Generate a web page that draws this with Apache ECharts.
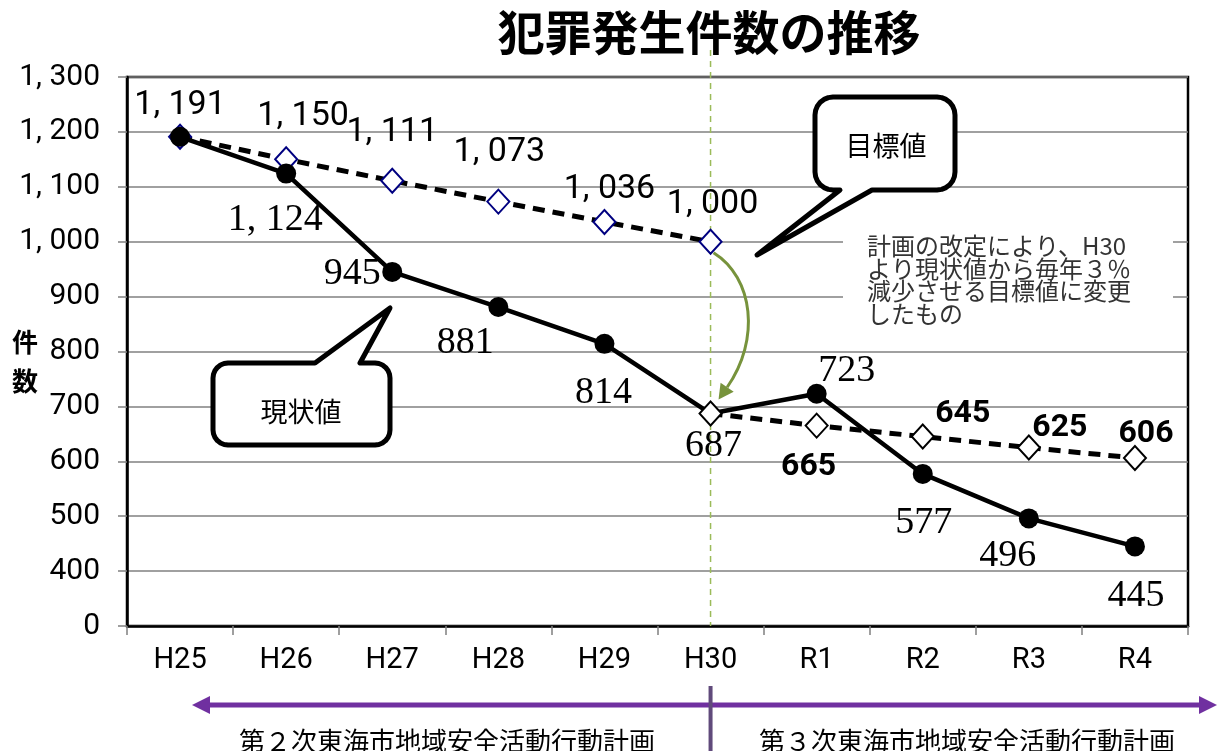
<!DOCTYPE html>
<html>
<head>
<meta charset="utf-8">
<script src="https://cdn.jsdelivr.net/npm/echarts@6/dist/echarts.min.js"></script>
<style>
html, body { margin: 0; padding: 0; background: #fff; }
#main { width: 1217px; height: 751px; }
</style>
</head>
<body>
<div id="main"></div>
<script>
// data
var years = ['H25', 'H26', 'H27', 'H28', 'H29', 'H30', 'R1', 'R2', 'R3', 'R4'];
var actual = [1191, 1124, 945, 881, 814, 687, 723, 577, 496, 445];     // 現状値
var targetOld = [1191, 1150, 1111, 1073, 1036, 1000, null, null, null, null]; // 目標値 (第2次)
var targetNew = [null, null, null, null, null, 687, 665, 645, 625, 606];     // 目標値 (改定後)
// y axis is broken: the bottom tick (300) is shown as 0
var yTickValues = [300, 400, 500, 600, 700, 800, 900, 1000, 1100, 1200, 1300];
var yTickLabels = ['0', '400', '500', '600', '700', '800', '900', '1, 000', '1, 100', '1, 200', '1, 300'];

var NARROW = "Roboto, 'Liberation Sans', sans-serif";
var SERIF = "'Liberation Serif', 'DejaVu Serif', serif";
var JP = "'Noto Sans CJK JP', 'Noto Sans', sans-serif";

// label offsets (px from the point), null = no label
var actualLabelPos = [null, [-11, 46], [-40, 2], [-33, 36], [-1, 49], [3, 32], [30, -23], [1, 49], [-21, 38], [1, 50]];
var oldLabelPos = [[0, -31], [17, -43], [0, -48], [1, -49], [5, -32], [2, -37], null, null, null, null];
var newLabelPos = [null, null, null, null, null, null, [-8, 41], [40, -23], [31, -20], [11, -24]];

function fmt(v) {
    return v >= 1000 ? Math.floor(v / 1000) + ', ' + String(v % 1000).padStart(3, '0') : String(v);
}

function buildData(values, pos, hideIdx) {
    return values.map(function (v, i) {
        if (v === null) return '-';
        var item = { value: v, label: pos[i] ? { show: true, offset: pos[i] } : { show: false } };
        if (hideIdx === i) item.symbolSize = 0;
        return item;
    });
}

var chart = echarts.init(document.getElementById('main'));

var option = {
    animation: false,
    backgroundColor: '#fff',
    grid: {
        left: 127, right: 29, top: 77, bottom: 125,
        show: true, borderColor: '#000', borderWidth: 2.5
    },
    xAxis: {
        type: 'category',
        data: years,
        boundaryGap: true,
        axisLine: { show: true, lineStyle: { color: '#000', width: 2.5 } },
        axisTick: { show: true, length: 9, interval: 0, lineStyle: { color: '#808080', width: 1.5 } },
        axisLabel: { color: '#000', fontFamily: NARROW, fontSize: 29, margin: 20, interval: 0 },
        splitLine: { show: false }
    },
    yAxis: {
        type: 'value',
        min: 300, max: 1300, interval: 100,
        axisLine: { show: true, lineStyle: { color: '#000', width: 2.5 } },
        axisTick: { show: true, length: 9, lineStyle: { color: '#808080', width: 1.5 } },
        axisLabel: {
            color: '#000', fontFamily: NARROW, fontSize: 30, margin: 27,
            formatter: function (v) {
                var k = yTickValues.indexOf(v);
                return k >= 0 ? yTickLabels[k] : '';
            }
        },
        splitLine: { show: true, lineStyle: { color: '#808080', width: 1.5 } }
    },
    series: [
        {
            name: '目標値',
            type: 'line',
            z: 2,
            data: buildData(targetOld, oldLabelPos),
            symbol: 'diamond',
            symbolSize: [22, 24],
            lineStyle: { color: '#000', width: 5, type: [12, 8] },
            itemStyle: { color: '#fff', borderColor: '#000080', borderWidth: 2 },
            label: {
                position: 'inside', align: 'center', verticalAlign: 'middle',
                color: '#000', fontFamily: NARROW, fontSize: 34,
                formatter: function (p) { return fmt(p.value); }
            }
        },
        {
            name: '現状値',
            type: 'line',
            z: 3,
            data: buildData(actual, actualLabelPos, 5),
            symbol: 'circle',
            symbolSize: 20,
            lineStyle: { color: '#000', width: 4.5 },
            itemStyle: { color: '#000' },
            label: {
                position: 'inside', align: 'center', verticalAlign: 'middle',
                color: '#000', fontFamily: SERIF, fontSize: 38,
                formatter: function (p) { return fmt(p.value); }
            }
        },
        {
            name: '目標値（改定）',
            type: 'line',
            z: 4,
            data: buildData(targetNew, newLabelPos),
            symbol: 'diamond',
            symbolSize: [22, 24],
            lineStyle: { color: '#000', width: 5, type: [12, 8] },
            itemStyle: { color: '#fff', borderColor: '#000', borderWidth: 2 },
            label: {
                position: 'inside', align: 'center', verticalAlign: 'middle',
                color: '#000', fontFamily: NARROW, fontWeight: 'bold', fontSize: 32,
                formatter: function (p) { return fmt(p.value); }
            }
        }
    ]
};
chart.setOption(option);

// rounded speech bubble as a polygon
function bubble(x1, y1, x2, y2, r, tail) {
    var pts = [];
    function arc(cx, cy, a0, a1) {
        for (var k = 0; k <= 6; k++) {
            var a = a0 + (a1 - a0) * k / 6;
            pts.push([cx + r * Math.cos(a), cy + r * Math.sin(a)]);
        }
    }
    arc(x1 + r, y1 + r, Math.PI, Math.PI * 1.5);
    if (tail.side === 'top') pts.push(tail.a, tail.tip, tail.b);
    arc(x2 - r, y1 + r, -Math.PI / 2, 0);
    arc(x2 - r, y2 - r, 0, Math.PI / 2);
    if (tail.side === 'bottom') pts.push(tail.a, tail.tip, tail.b);
    arc(x1 + r, y2 - r, Math.PI / 2, Math.PI);
    return pts;
}

var h30x = chart.convertToPixel({ xAxisIndex: 0 }, 'H30');
var from = chart.convertToPixel({ gridIndex: 0 }, [5, targetOld[5]]);
var to = chart.convertToPixel({ gridIndex: 0 }, [5, targetNew[5]]);

// green curved arrow from old target to new start
var p0 = [from[0] + 3, from[1] + 11];
var p3 = [to[0] + 8, to[1] - 14];
var c1 = [p0[0] + 40, p0[1] + 25];
var c2 = [p3[0] + 42, p3[1] - 60];
var dx = p3[0] - c2[0], dy = p3[1] - c2[1];
var len = Math.sqrt(dx * dx + dy * dy);
dx /= len; dy /= len;
var hb = [p3[0] - dx * 15, p3[1] - dy * 15];
var arrowHead = [p3, [hb[0] - dy * 8, hb[1] + dx * 8], [hb[0] + dy * 8, hb[1] - dx * 8]];

var graphics = [
    {
        type: 'text', x: 709, y: 32, z: 10,
        style: { text: '犯罪発生件数の推移', font: 'bold 47px ' + JP, fill: '#000', align: 'center', verticalAlign: 'middle' }
    },
    {
        type: 'text', x: 25, y: 342, z: 10,
        style: { text: '件', font: 'bold 26px ' + JP, fill: '#000', align: 'center', verticalAlign: 'middle' }
    },
    {
        type: 'text', x: 25, y: 381, z: 10,
        style: { text: '数', font: 'bold 26px ' + JP, fill: '#000', align: 'center', verticalAlign: 'middle' }
    },
    {
        type: 'line', z: 1, silent: true,
        shape: { x1: h30x, y1: 50, x2: h30x, y2: 626 },
        style: { stroke: '#9BBB59', lineWidth: 1.5, lineDash: [6, 5] }
    },
    {
        type: 'bezierCurve', z: 10,
        shape: { x1: p0[0], y1: p0[1], cpx1: c1[0], cpy1: c1[1], cpx2: c2[0], cpy2: c2[1], x2: hb[0], y2: hb[1] },
        style: { stroke: '#77933C', lineWidth: 3, fill: null }
    },
    {
        type: 'polygon', z: 10,
        shape: { points: arrowHead },
        style: { fill: '#77933C' }
    },
    // 目標値 callout
    {
        type: 'polygon', z: 10,
        shape: { points: bubble(815, 97, 955, 190, 18, { side: 'bottom', a: [872, 190], tip: [757, 255], b: [840, 190] }) },
        style: { fill: '#fff', stroke: '#000', lineWidth: 5, lineJoin: 'round' }
    },
    {
        type: 'text', x: 886, y: 146, z: 11,
        style: { text: '目標値', font: '27px ' + JP, fill: '#000', align: 'center', verticalAlign: 'middle' }
    },
    // 現状値 callout
    {
        type: 'polygon', z: 10,
        shape: { points: bubble(213, 363, 390, 445, 15, { side: 'top', a: [315, 363], tip: [390, 308], b: [360, 363] }) },
        style: { fill: '#fff', stroke: '#000', lineWidth: 5, lineJoin: 'round' }
    },
    {
        type: 'text', x: 301, y: 412, z: 11,
        style: { text: '現状値', font: '27px ' + JP, fill: '#000', align: 'center', verticalAlign: 'middle' }
    },
    // note
    {
        type: 'rect', z: 9,
        shape: { x: 843, y: 230, width: 330, height: 100 },
        style: { fill: '#fff' }
    },
    {
        type: 'text', x: 867, y: 235, z: 11,
        style: {
            text: '計画の改定により、H30\nより現状値から毎年３％\n減少させる目標値に変更\nしたもの',
            font: '24px ' + JP, lineHeight: 22.5, fill: '#333', align: 'left', verticalAlign: 'top'
        }
    },
    // plan periods
    {
        type: 'line', z: 10,
        shape: { x1: 208, y1: 705, x2: 1200, y2: 705 },
        style: { stroke: '#7030A0', lineWidth: 5 }
    },
    {
        type: 'polygon', z: 10,
        shape: { points: [[192, 705], [210, 696], [210, 714]] },
        style: { fill: '#7030A0' }
    },
    {
        type: 'polygon', z: 10,
        shape: { points: [[1217, 705], [1199, 696], [1199, 714]] },
        style: { fill: '#7030A0' }
    },
    {
        type: 'line', z: 11,
        shape: { x1: h30x, y1: 686, x2: h30x, y2: 751 },
        style: { stroke: '#604A7B', lineWidth: 4 }
    },
    {
        type: 'text', x: 447, y: 741, z: 10,
        style: { text: '第２次東海市地域安全活動行動計画', font: '26px ' + JP, fill: '#000', align: 'center', verticalAlign: 'middle' }
    },
    {
        type: 'text', x: 967, y: 741, z: 10,
        style: { text: '第３次東海市地域安全活動行動計画', font: '26px ' + JP, fill: '#000', align: 'center', verticalAlign: 'middle' }
    }
];

chart.setOption({ graphic: graphics });
</script>
</body>
</html>
